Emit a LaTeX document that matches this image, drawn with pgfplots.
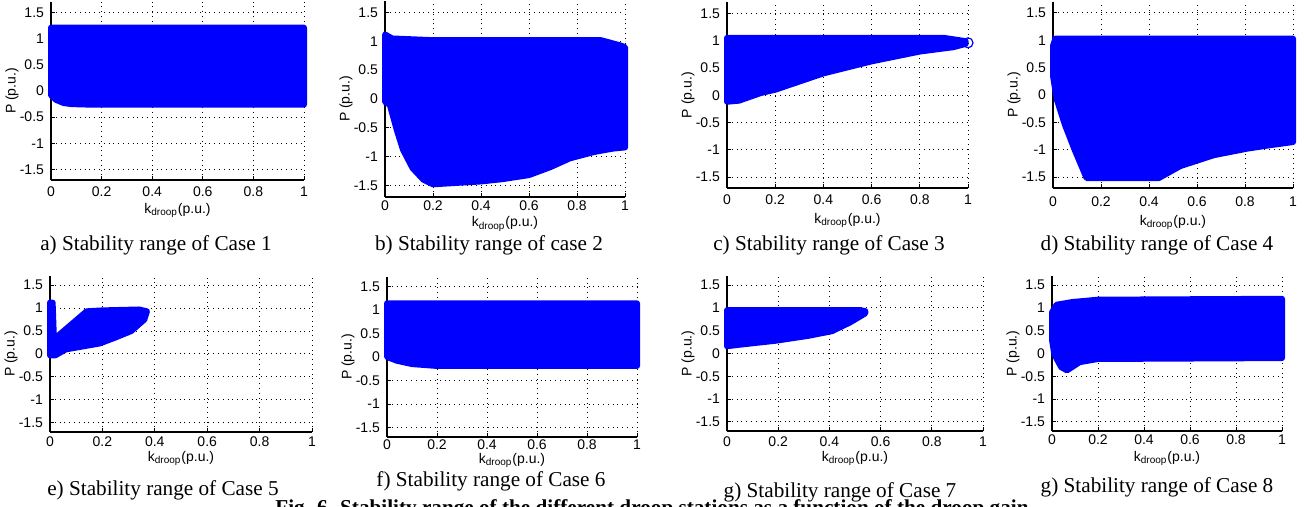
\documentclass[border=0pt]{standalone}
\usepackage{fontspec}
\setmainfont{Liberation Serif}
\setsansfont{Liberation Sans}
\usepackage{pgfplots}
\pgfplotsset{compat=1.18}

\pgfplotsset{
  panel/.style={
    scale only axis,
    anchor=south west,
    xmin=0, xmax=1, ymin=-1.7, ymax=1.7,
    xtick={0,0.2,0.4,0.6,0.8,1},
    ytick={-1.5,-1,-0.5,0,0.5,1,1.5},
    axis x line*=bottom, axis y line*=left,
    axis line style={black, line width=0.8pt, -},
    tick align=inside, major tick length=2pt,
    tick style={black, line width=0.5pt},
    grid=major,
    grid style={black, dotted, line width=0.5pt},
    clip=false,
    font=\sffamily\fontsize{7}{8}\selectfont,
    /pgf/number format/assume math mode=true,
    xlabel={k\textsubscript{droop}(p.u.)},
    ylabel={P (p.u.)},
    every axis x label/.style={at={(axis description cs:0.5,0)}, anchor=base},
    every axis y label/.style={at={(axis description cs:0,0.5)}, xshift=-19.5pt, rotate=90, anchor=center},
  },
  % offsets of tick labels and x label below the axis
  labs/.style 2 args={
    xticklabel style={anchor=center, yshift=-#1},
    xlabel style={yshift=-#2},
  },
  region/.style={fill=blue, draw=blue, line width=3pt, line join=round},
}

\begin{document}
\begin{tikzpicture}
% a) case 1
\begin{axis}[panel, labs={6pt}{16.75pt}, at={(25.5pt,-90pt)}, width=126.5pt, height=89pt]
\addplot[region] coordinates {(0,1.21) (1,1.21) (1,-0.26) (0.15,-0.26) (0.08,-0.25)
  (0.05,-0.23) (0.02,-0.17) (0,-0.08)} -- cycle;
\end{axis}
% b) case 2
\begin{axis}[panel, labs={4.5pt}{15pt}, at={(192.5pt,-98.5pt)}, width=120pt, height=98pt]
\addplot[region] coordinates {(0,1.12) (0.03,1.05) (0.2,1.02) (0.9,1.02) (0.98,0.93)
  (1,0.9) (1,-0.84) (0.95,-0.86) (0.87,-0.92) (0.77,-1.03) (0.69,-1.18) (0.6,-1.32)
  (0.49,-1.39) (0.4,-1.43) (0.2,-1.48) (0.16,-1.4) (0.115,-1.2) (0.075,-0.88)
  (0.05,-0.55) (0.02,-0.1) (0,-0.05)} -- cycle;
\end{axis}
% c) case 3
\begin{axis}[panel, labs={6pt}{17.75pt}, at={(363.5pt,-94pt)}, width=120.5pt, height=92.8pt]
\addplot[region] coordinates {(0,1.05) (0.9,1.05) (0.99,0.99) (0.99,0.94) (0.94,0.88)
  (0.8,0.8) (0.6,0.62) (0.4,0.4) (0.2,0.1) (0.14,0.04) (0.05,-0.1) (0,-0.12)} -- cycle;
\addplot[only marks, mark=o, mark size=2.5pt, blue, line width=0.6pt] coordinates {(1,0.96)};
\end{axis}
% d) case 4
\begin{axis}[panel, labs={7pt}{18.75pt}, at={(526.5pt,-94pt)}, width=120pt, height=93pt]
\addplot[region] coordinates {(0.01,1.03) (1,1.03) (1,-0.86) (0.9,-0.92) (0.81,-0.98)
  (0.67,-1.1) (0.53,-1.3) (0.44,-1.52) (0.14,-1.52) (0.09,-1.0) (0.05,-0.55)
  (0.015,-0.07) (0,0.35) (0,0.9)} -- cycle;
\end{axis}
% e) case 5
\begin{axis}[panel, labs={5pt}{14.75pt}, at={(25pt,-216pt)}, width=131pt, height=78pt]
\addplot[region] coordinates {(0,1.12) (0.01,1.12) (0.015,0.32) (0.14,0.93) (0.2,0.95)
  (0.34,0.97) (0.37,0.93) (0.36,0.75) (0.31,0.5) (0.25,0.36) (0.19,0.23) (0.13,0.17)
  (0.06,0.1) (0.02,-0.03) (0,-0.03)} -- cycle;
\end{axis}
% f) case 6
\begin{axis}[panel, labs={4pt}{13.25pt}, at={(193.5pt,-218.5pt)}, width=125pt, height=80pt]
\addplot[region] coordinates {(0,1.14) (1,1.14) (1,-0.19) (0.2,-0.19) (0.1,-0.15)
  (0.04,-0.08) (0,0.0)} -- cycle;
\end{axis}
% g) case 7
\begin{axis}[panel, labs={5.5pt}{15.25pt}, at={(363.5pt,-215.5pt)}, width=128pt, height=77.5pt]
\addplot[region] coordinates {(0,0.95) (0.52,0.95) (0.54,0.93) (0.54,0.88) (0.48,0.68)
  (0.41,0.49) (0.32,0.39) (0.19,0.28) (0.06,0.2) (0,0.16)} -- cycle;
\end{axis}
% g) case 8
\begin{axis}[panel, labs={4.5pt}{15.25pt}, at={(526pt,-215.5pt)}, width=115pt, height=77.5pt]
\addplot[region] coordinates {(0,0.9) (0.02,1.07) (0.09,1.13) (0.2,1.18) (1,1.2)
  (1,-0.1) (0.2,-0.12) (0.12,-0.19) (0.065,-0.37) (0.04,-0.3) (0.01,-0.02) (0,0.3)} -- cycle;
\end{axis}

\begin{scope}[every node/.style={font=\fontsize{10.6}{12}\selectfont, inner sep=0pt}]
\node at (78pt,-122.5pt) {a) Stability range of Case 1};
\node at (244.5pt,-122.5pt) {b) Stability range of case 2};
\node at (414.5pt,-122.5pt) {c) Stability range of Case 3};
\node at (578.5pt,-122.5pt) {d) Stability range of Case 4};
\node at (81.5pt,-245pt) {e) Stability range of Case 5};
\node at (245.5pt,-240.5pt) {f) Stability range of Case 6};
\node at (420pt,-246pt) {g) Stability range of Case 7};
\node at (578.5pt,-243.5pt) {g) Stability range of Case 8};
\node[anchor=base, font=\bfseries\fontsize{10.6}{12}\selectfont] at (326pt,-257pt)
  {Fig. 6. Stability range of the different droop stations as a function of the droop gain};
\end{scope}

\pgfresetboundingbox
\useasboundingbox (0,0) rectangle (652pt,-253.5pt);
\end{tikzpicture}
\end{document}
